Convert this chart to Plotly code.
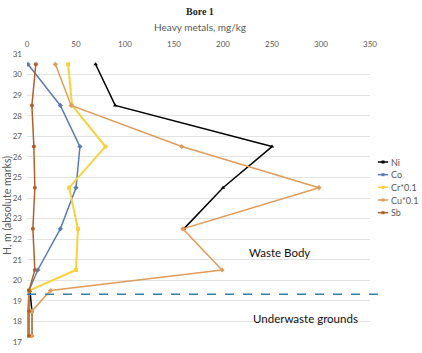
import plotly.graph_objects as go

depth = [30.5, 28.5, 26.5, 24.5, 22.5, 20.5, 19.5, 18.5, 17.3]
ni = [70, 90, 250, 200, 160, None, 3, 5, 5]
co = [1, 34, 54, 50, 34, 11, 2, 1, 1]
cr = [42, 46, 80, 43, 52, 50, 2, 2, 2]
cu = [29, 45, 158, 298, 159, 199, 24, 5, 5]
sb = [9, 5, 7, 8, 6, 8, 2, 2, 2]

names = ["Ni", "Co", "Cr*0.1", "Cu*0.1", "Sb"]
series = [ni, co, cr, cu, sb]
colors = ["#000000", "#5B7DB3", "#F7D23C", "#DF9C5C", "#B0602C"]
symbols = ["triangle-up", "diamond", "square", "diamond", "circle"]
widths = [1.5, 1.5, 2, 1.5, 1.5]

x_ticks = [0, 50, 100, 150, 200, 250, 300, 350]
y_ticks = list(range(17, 32))
boundary = 19.32

fig = go.Figure()
for nm, vals, c, s, w in zip(names, series, colors, symbols, widths):
    fig.add_trace(go.Scatter(
        x=vals, y=depth, mode="lines+markers", name=nm,
        line=dict(color=c, width=w), marker=dict(color=c, size=4, symbol=s),
        connectgaps=False, showlegend=False,
    ))

font = "Lato, Open Sans, sans-serif"

# dashed boundary line
fig.add_shape(type="line", xref="paper", yref="y", x0=0, x1=1.023, y0=boundary, y1=boundary,
              line=dict(color="#3C7EA3", width=1.5, dash="dash"))

# custom compact legend
leg_x0 = 1.023
for i, (nm, c, s) in enumerate(zip(names, colors, symbols)):
    yy = 0.625 - i * 0.044
    fig.add_shape(type="line", xref="paper", yref="paper", x0=leg_x0, x1=leg_x0 + 0.03,
                  y0=yy, y1=yy, line=dict(color=c, width=1.5))
    fig.add_shape(type="rect", xref="paper", yref="paper", xsizemode="pixel", ysizemode="pixel",
                  xanchor=leg_x0 + 0.015, yanchor=yy, x0=-1.5, x1=1.5, y0=-1.5, y1=1.5,
                  line=dict(width=0), fillcolor=c)
    fig.add_annotation(xref="paper", yref="paper", x=leg_x0 + 0.031, y=yy, text=nm,
                       showarrow=False, font=dict(size=9, color="#595959", family=font),
                       xanchor="left", yanchor="middle")

fig.add_annotation(x=258, y=21.36, text="Waste Body", showarrow=False,
                   font=dict(size=11.5, color="#111111", family=font))
fig.add_annotation(x=284, y=18.15, text="Underwaste grounds", showarrow=False,
                   font=dict(size=11.5, color="#111111", family=font))

fig.add_annotation(xref="paper", yref="paper", x=0.505, y=1.0, yanchor="middle", yshift=43,
                   text="<b>Bore 1</b>", showarrow=False,
                   font=dict(size=10, color="#262626", family="Liberation Serif, DejaVu Serif, serif"))
fig.add_annotation(xref="paper", yref="paper", x=0.505, y=1.0, yanchor="middle", yshift=27,
                   text="Heavy metals, mg/kg", showarrow=False,
                   font=dict(size=10, color="#595959", family=font))
fig.add_annotation(xref="paper", yref="paper", x=0, xanchor="center", yanchor="middle",
                   xshift=-20, y=0.5, yshift=-8,
                   text="H, m (absolute marks)", textangle=-90, showarrow=False,
                   font=dict(size=10.5, color="#595959", family=font))

fig.update_layout(
    width=422, height=353,
    margin=dict(l=27, r=52, t=54, b=11),
    plot_bgcolor="white", paper_bgcolor="white",
    showlegend=False,
    font=dict(family=font, color="#595959"),
    xaxis=dict(range=[0, 350], side="top", tickvals=x_ticks, showgrid=False, zeroline=False,
               showline=False, tickfont=dict(size=8, color="#595959"), ticks="", automargin=False,
               ticklabelstandoff=4),
    yaxis=dict(range=[17, 31], tickvals=y_ticks, showgrid=True, gridcolor="#E3E3E3", gridwidth=1,
               zeroline=False, showline=False, tickfont=dict(size=8, color="#595959"), ticks="",
               automargin=False, ticklabelstandoff=4),
)

fig.write_html("out.html")
